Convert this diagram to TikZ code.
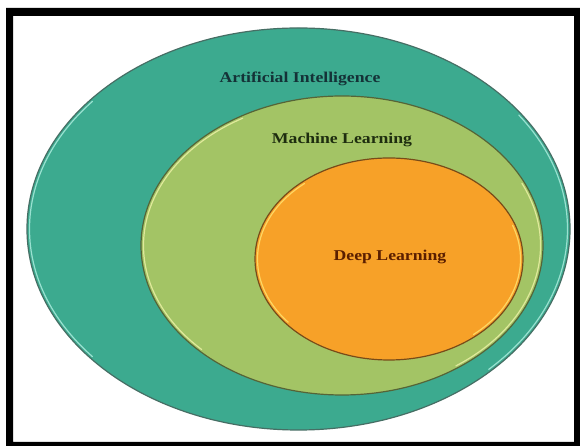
\documentclass[tikz,border=0pt]{standalone}
\usepackage{fontspec}
\setmainfont{Liberation Serif}
\usetikzlibrary{shapes.geometric,calc}
\definecolor{tealfill}{RGB}{60,170,143}
\definecolor{tealedge}{RGB}{70,110,100}
\definecolor{tealhl}{RGB}{170,235,220}
\definecolor{greenfill}{RGB}{163,196,101}
\definecolor{greenedge}{RGB}{85,100,55}
\definecolor{greenhl}{RGB}{235,240,165}
\definecolor{orangefill}{RGB}{247,161,40}
\definecolor{orangeedge}{RGB}{120,75,25}
\definecolor{orangehl}{RGB}{255,225,110}
\definecolor{aitext}{RGB}{20,50,55}
\definecolor{mltext}{RGB}{30,45,15}
\definecolor{dltext}{RGB}{90,30,0}
\tikzset{
  ring/.style={ellipse, inner sep=0pt, line width=1.2pt},
  label/.style={inner sep=0pt, font=\fontsize{15}{18}\selectfont\bfseries},
  hl/.style={line width=1.2pt, line cap=round, opacity=0.85}
}
\newcommand{\wide}[1]{\scalebox{1.18}[1]{#1}}
\begin{document}
\begin{tikzpicture}[x=1pt,y=1pt]
\useasboundingbox (0,0) rectangle (580,446);
\fill[white] (0,0) rectangle (580,446);
% frame
\fill[black,even odd rule] (6,0) rectangle (580,438) (13,4) rectangle (574,430);
% ellipses
\node[ring, draw=tealedge, fill=tealfill, minimum width=543pt, minimum height=402pt] (ai) at (298.5,217) {};
\draw[hl, tealhl] ($(ai.center)+({269*cos(140)},{198.5*sin(140)})$) arc[start angle=140, end angle=220, x radius=269, y radius=198.5];
\draw[hl, tealhl] ($(ai.center)+({269*cos(-45)},{198.5*sin(-45)})$) arc[start angle=-45, end angle=35, x radius=269, y radius=198.5];
\node[ring, draw=greenedge, fill=greenfill, minimum width=402pt, minimum height=299pt] (ml) at (342,200.5) {};
\draw[hl, greenhl] ($(ml.center)+({198.5*cos(120)},{147*sin(120)})$) arc[start angle=120, end angle=225, x radius=198.5, y radius=147];
\draw[hl, greenhl] ($(ml.center)+({198.5*cos(-55)},{147*sin(-55)})$) arc[start angle=-55, end angle=25, x radius=198.5, y radius=147];
\node[ring, draw=orangeedge, fill=orangefill, minimum width=268pt, minimum height=202pt] (dl) at (389,187) {};
\draw[hl, orangehl] ($(dl.center)+({131.5*cos(130)},{98.5*sin(130)})$) arc[start angle=130, end angle=220, x radius=131.5, y radius=98.5];
\draw[hl, orangehl] ($(dl.center)+({131.5*cos(-50)},{98.5*sin(-50)})$) arc[start angle=-50, end angle=20, x radius=131.5, y radius=98.5];
% labels
\node[label, text=aitext] (aiT) at (300,367) {\wide{Artificial Intelligence}};
\node[label, text=mltext] (mlT) at (342,306) {\wide{Machine Learning}};
\node[label, text=dltext] (dlT) at (390,189) {\wide{Deep Learning}};
\end{tikzpicture}
\end{document}
